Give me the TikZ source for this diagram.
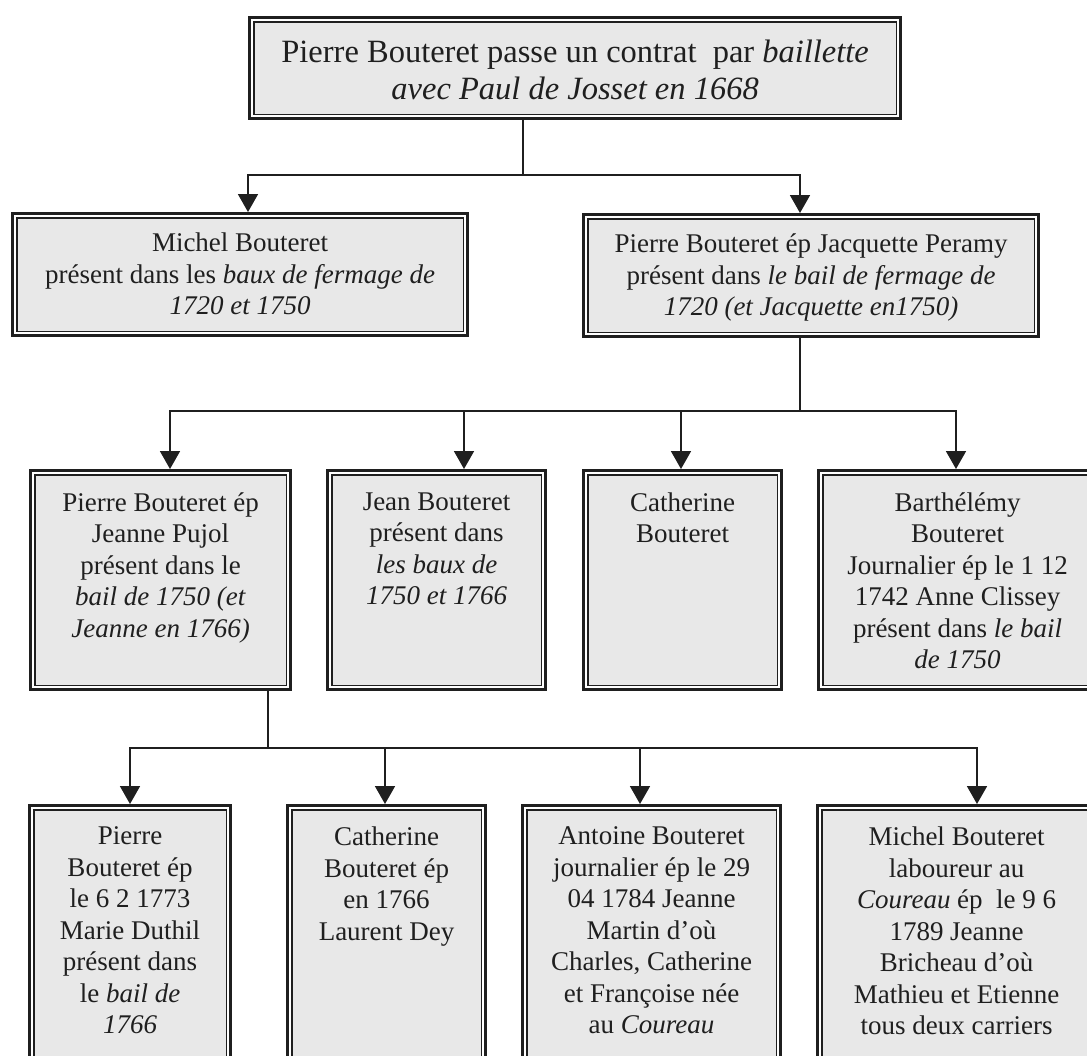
\documentclass[tikz,border=0pt]{standalone}
\usepackage{fontspec}
\setmainfont{Liberation Serif}
\usetikzlibrary{arrows.meta,positioning}
\definecolor{boxfill}{gray}{0.91}
\definecolor{ink}{gray}{0.12}
\tikzset{
  box/.style={draw=ink, line width=3.2pt, fill=white, inner sep=0pt, anchor=north west,
    path picture={\draw[ink, line width=1.4pt, fill=boxfill]
      ([shift={(4.3pt,4.3pt)}]path picture bounding box.south west) rectangle
      ([shift={(-4.3pt,-4.3pt)}]path picture bounding box.north east);}},
  txt/.style={align=center, inner sep=0pt, anchor=north, text=ink,
    font=\fontsize{27}{31.5}\selectfont},
  toptxt/.style={txt, font=\fontsize{32.5}{37}\selectfont},
  conn/.style={draw=ink, line width=1.8pt},
  arr/.style={conn, -{Triangle[width=20pt,length=18pt]}},
}
\begin{document}
\begin{tikzpicture}[x=1pt,y=-1pt]
\useasboundingbox (0,0) rectangle (1087,1055);
\clip (0,0) rectangle (1087,1055);
\fill[white] (0,0) rectangle (1087,1055);

% ---------- boxes ----------
\node[box, minimum width=651pt, minimum height=101pt] (T) at (248,16) {};
\node[box, minimum width=455pt, minimum height=122pt] (M) at (11,212) {};
\node[box, minimum width=455pt, minimum height=122pt] (P) at (582,213) {};
\node[box, minimum width=260pt, minimum height=219pt] (A) at (29,469) {};
\node[box, minimum width=218pt, minimum height=219pt] (B) at (326,469) {};
\node[box, minimum width=198pt, minimum height=219pt] (C) at (582,469) {};
\node[box, minimum width=278pt, minimum height=219pt] (D) at (817,469) {};
\node[box, minimum width=201pt, minimum height=280pt] (E) at (28,804) {};
\node[box, minimum width=198pt, minimum height=280pt] (F) at (286,804) {};
\node[box, minimum width=258pt, minimum height=280pt] (G) at (521,804) {};
\node[box, minimum width=278pt, minimum height=280pt] (H) at (816,804) {};

% ---------- texts ----------
\node[toptxt, below=24pt of T.north] (tT) {Pierre Bouteret passe un contrat\ \ par \textit{baillette}\\ \textit{avec Paul de Josset en 1668}};
\node[txt, below=20.6pt of M.north] (tM) {Michel Bouteret\\ présent dans les \textit{baux de fermage de}\\ \textit{1720 et 1750}};
\node[txt, below=20.6pt of P.north] (tP) {Pierre Bouteret ép Jacquette Peramy\\ présent dans \textit{le bail de fermage de}\\ \textit{1720 (et Jacquette en1750)}};
\node[txt, below=23.5pt of A.north] (tA) {Pierre Bouteret ép\\ Jeanne Pujol\\ présent dans le\\ \textit{bail de 1750 (et}\\ \textit{Jeanne en 1766)}};
\node[txt, below=23.5pt of B.north] (tB) {Jean Bouteret\\ présent dans\\ \textit{les baux de}\\ \textit{1750 et 1766}};
\node[txt, below=23.5pt of C.north] (tC) {Catherine\\ Bouteret};
\node[txt, below=23.5pt of D.north] (tD) {Barthélémy\\ Bouteret\\ Journalier ép le 1 12\\ 1742 Anne Clissey\\ présent dans \textit{le bail}\\ \textit{de 1750}};
\node[txt, below=22.6pt of E.north] (tE) {Pierre\\ Bouteret ép\\ le 6 2 1773\\ Marie Duthil\\ présent dans\\ le \textit{bail de}\\ \textit{1766}};
\node[txt, below=22.6pt of F.north] (tF) {Catherine\\ Bouteret ép\\ en 1766\\ Laurent Dey};
\node[txt, below=22.6pt of G.north] (tG) {Antoine Bouteret\\ journalier ép le 29\\ 04 1784 Jeanne\\ Martin d'où\\ Charles, Catherine\\ et Françoise née\\ au \textit{Coureau}};
\node[txt, below=22.6pt of H.north] (tH) {Michel Bouteret\\ laboureur au\\ \textit{Coureau} ép\ \ le 9 6\\ 1789 Jeanne\\ Bricheau d'où\\ Mathieu et Etienne\\ tous deux carriers};

% ---------- junctions and arrow columns ----------
\coordinate (j1) at (523,175);
\coordinate (j2) at (800,411);
\coordinate (j3) at (268,748);
\coordinate (xM) at (248,0);
\coordinate (xP) at (800,0);
\coordinate (xA) at (170,0);
\coordinate (xB) at (464,0);
\coordinate (xC) at (681,0);
\coordinate (xD) at (956,0);
\coordinate (xE) at (130,0);
\coordinate (xF) at (385,0);
\coordinate (xG) at (640,0);
\coordinate (xH) at (977,0);

% ---------- connectors ----------
\draw[conn] (T.south -| j1) -- (j1);
\draw[arr] (j1) -| (xM |- M.north);
\draw[arr] (j1) -| (xP |- P.north);

\draw[conn] (P.south -| j2) -- (j2);
\draw[arr] (j2) -| (xA |- A.north);
\draw[arr] (j2) -| (xB |- B.north);
\draw[arr] (j2) -| (xC |- C.north);
\draw[arr] (j2) -| (xD |- D.north);

\draw[conn] (A.south -| j3) -- (j3);
\draw[arr] (j3) -| (xE |- E.north);
\draw[arr] (j3) -| (xF |- F.north);
\draw[arr] (j3) -| (xG |- G.north);
\draw[arr] (j3) -| (xH |- H.north);
\end{tikzpicture}
\end{document}
